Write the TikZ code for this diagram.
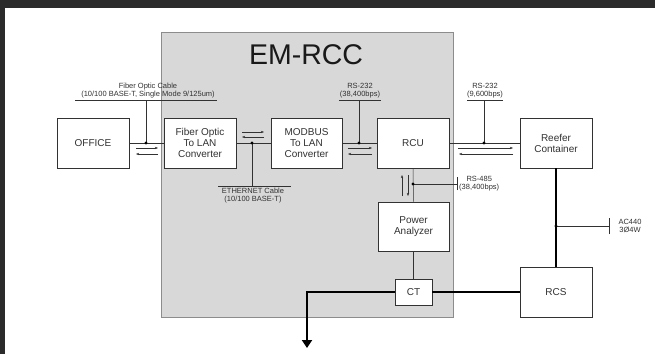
\documentclass[tikz,border=0pt]{standalone}
\usepackage{fontspec}
\setmainfont{Liberation Sans}
\usetikzlibrary{arrows.meta}
\definecolor{frame}{RGB}{43,43,43}
\definecolor{emfill}{RGB}{216,216,216}
\definecolor{emline}{RGB}{140,140,140}
\definecolor{ink}{RGB}{50,50,50}
\begin{document}
\begin{tikzpicture}[x=1pt,y=-1pt,
  box/.style={draw=ink, fill=white, line width=0.6pt, minimum width=72pt, minimum height=50pt,
    inner sep=0pt, align=center, font=\fontsize{10}{11}\selectfont, text=ink},
  lbl/.style={font=\fontsize{7.5}{8}\selectfont, inner sep=0pt, align=center, text=ink},
  wire/.style={draw=ink, line width=0.5pt},
  sig/.style={draw=ink, line width=0.45pt, -{Stealth[length=3.2pt,width=2.4pt]}},
  power/.style={draw=black, line width=2pt},
  dotn/.style={circle, fill=black, inner sep=0pt, minimum size=3.2pt}]
\useasboundingbox (0,0) rectangle (655,354);
\fill[white] (0,0) rectangle (655,354);
\fill[frame] (0,0) rectangle (655,8);
\fill[frame] (0,0) rectangle (5,354);
% EM-RCC enclosure
\node[draw=emline, fill=emfill, line width=0.7pt, minimum width=292pt, minimum height=285pt, inner sep=0pt]
  (emrcc) at (307,174.5) {};
\node[font=\fontsize{28.5}{30}\selectfont, inner sep=0pt, text=black!90] (title) at (306,55) {EM-RCC};
% boxes
\node[box] (office) at (93,143) {OFFICE};
\node[box] (fiber) at (200,143) {Fiber Optic\\To LAN\\Converter};
\node[box, minimum width=71pt] (modbus) at (306.5,143) {MODBUS\\To LAN\\Converter};
\node[box] (rcu) at (413,143) {RCU};
\node[box] (reefer) at (556,143) {Reefer\\Container};
\node[box, minimum width=71pt, minimum height=49pt] (pa) at (413.5,226.5) {Power\\Analyzer};
\node[box, minimum width=37pt, minimum height=26pt] (ct) at (413.5,292) {CT};
\node[box] (rcs) at (556,292) {RCS};
% links
\draw[wire] (office.east) -- (fiber.west);
\draw[wire] (fiber.east) -- (modbus.west);
\draw[wire] (modbus.east) -- (rcu.west);
\draw[wire] (rcu.east) -- (reefer.west);
\draw[wire] (rcu.south) -- (pa.north);
\draw[wire] (pa.south) -- (ct.north);
% fiber optic cable label
\coordinate (d1) at (146,143);
\coordinate (u1a) at (75,100);
\coordinate (u1b) at (217,100);
\draw[wire] (u1a) -- (u1b);
\draw[wire] (d1) -- (d1 |- u1a);
\node[dotn] (dot1) at (d1) {};
\node[lbl, anchor=south] (lfiber) at (148,98.5) {Fiber Optic Cable\\(10/100 BASE-T, Single Mode 9/125um)};
\draw[sig] (136,148) -- (158,148);
\draw[sig] (158,154) -- (136,154);
% ethernet cable label
\coordinate (d2) at (252,143);
\coordinate (u2a) at (218,186);
\coordinate (u2b) at (291,186);
\draw[wire] (u2a) -- (u2b);
\draw[wire] (d2) -- (d2 |- u2a);
\node[dotn] (dot2) at (d2) {};
\node[lbl, anchor=north] (leth) at (253,187.5) {ETHERNET Cable\\(10/100 BASE-T)};
\draw[sig] (242,132) -- (264,132);
\draw[sig] (264,137) -- (242,137);
% RS-232 38,400
\coordinate (d3) at (359,143);
\coordinate (u3a) at (339,100);
\coordinate (u3b) at (381,100);
\draw[wire] (u3a) -- (u3b);
\draw[wire] (d3) -- (d3 |- u3a);
\node[dotn] (dot3) at (d3) {};
\node[lbl, anchor=south] (lrs1) at (360,98.5) {RS-232\\(38,400bps)};
\draw[sig] (348,148) -- (372,148);
\draw[sig] (372,154) -- (348,154);
% RS-232 9,600
\coordinate (d4) at (484,143);
\coordinate (u4a) at (467,100);
\coordinate (u4b) at (503,100);
\draw[wire] (u4a) -- (u4b);
\draw[wire] (d4) -- (d4 |- u4a);
\node[dotn] (dot4) at (d4) {};
\node[lbl, anchor=south] (lrs2) at (485,98.5) {RS-232\\(9,600bps)};
\draw[sig] (458,148) -- (513,148);
\draw[sig] (513,154) -- (459,154);
% RS-485
\coordinate (d5) at (413,184);
\coordinate (t5) at (457,184);
\draw[wire] (d5) -- (t5);
\draw[wire] ([yshift=-6pt]t5) -- ([yshift=7pt]t5);
\node[dotn] (dot5) at (d5) {};
\node[lbl, anchor=west] (lrs3) at (459,184) {RS-485\\(38,400bps)};
\draw[sig] (402,196) -- (402,175);
\draw[sig] (408,175) -- (408,196);
% power lines
\draw[power] (reefer.south) -- (rcs.north);
\draw[power] (ct.east) -- (rcs.west);
\coordinate (bend) at (307,292);
\coordinate (out) at (307,348);
\draw[power, -{Triangle[width=10pt,length=8pt]}] (ct.west) -- (bend) -- (out);
% AC440
\coordinate (d6) at (556,226);
\coordinate (t6) at (609,226);
\draw[wire] (d6) -- (t6);
\draw[wire] ([yshift=-8pt]t6) -- ([yshift=8pt]t6);
\node[dotn] (dot6) at (d6) {};
\node[lbl] (lac) at (630,226) {AC440\\3Ø4W};
\end{tikzpicture}
\end{document}
